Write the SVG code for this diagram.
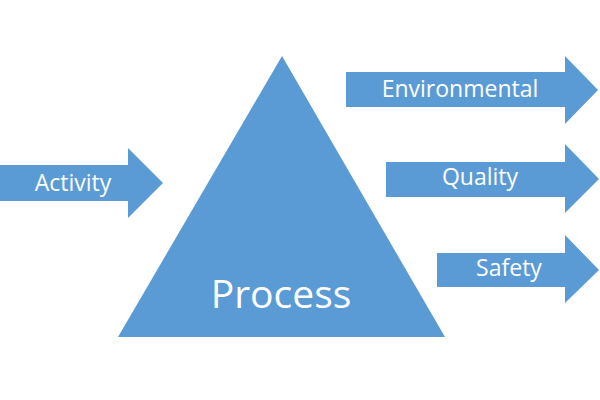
<svg xmlns="http://www.w3.org/2000/svg" width="600" height="400" viewBox="0 0 600 400">
<style>
.shape{fill:#5b9bd5}
.lbl{fill:#ffffff;font-family:"Open Sans","Noto Sans",sans-serif;font-size:23px;text-anchor:middle}
.big{font-size:39px}
</style>
<rect width="600" height="400" fill="#ffffff"/>
<g id="process">
<polygon class="shape" points="282,56 445,337 118,337"/>
<text class="lbl big" x="281" y="308">Process</text>
</g>
<g id="connectors">
<g id="activity">
<polygon class="shape" points="0,165 128,165 128,148 163,183 128,218 128,201 0,201"/>
<text class="lbl" x="73" y="191">Activity</text>
</g>
<g id="environmental">
<polygon class="shape" points="346,72 565,72 565,56 598,90 565,124 565,107 346,107"/>
<text class="lbl" x="460" y="97">Environmental</text>
</g>
<g id="quality">
<polygon class="shape" points="386,162 565,162 565,144 599,179 565,213 565,197 386,197"/>
<text class="lbl" x="480" y="185">Quality</text>
</g>
<g id="safety">
<polygon class="shape" points="437,253 565,253 565,235 599,270 565,303 565,287 437,287"/>
<text class="lbl" x="509" y="276">Safety</text>
</g>
</g>
</svg>
